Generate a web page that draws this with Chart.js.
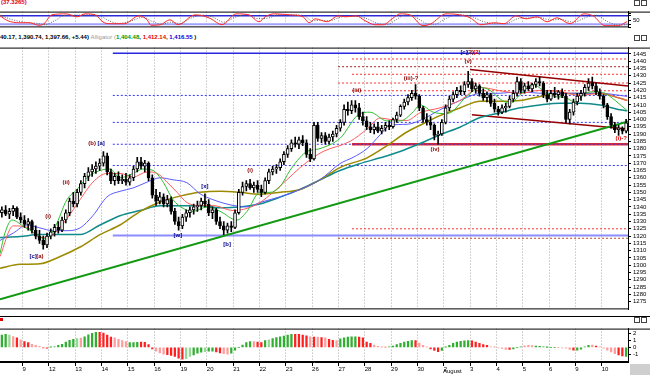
<!DOCTYPE html>
<html>
<head>
<meta charset="utf-8">
<script src="https://cdn.jsdelivr.net/npm/chart.js@4.4.1/dist/chart.umd.min.js"></script>
<style>
  html, body { margin: 0; padding: 0; background: #fff; }
  #wrap { position: relative; width: 650px; height: 375px; overflow: hidden; background: #fff;
          font-family: "Liberation Sans", Arial, sans-serif; }
  canvas { position: absolute; left: 0; }
  .txt { position: absolute; font-size: 6px; font-weight: bold; white-space: nowrap; line-height: 7px; }
  .hl { position: absolute; left: 0; width: 650px; height: 1px; background: #000; }
  .ico { position: absolute; width: 4px; height: 4px; border: 1px solid #444; background: #fff; }
</style>
</head>
<body>
<div id="wrap">
  <canvas id="oscChart" width="650" height="27" style="top:6px"></canvas>
  <canvas id="priceChart" width="650" height="273" style="top:42px"></canvas>
  <canvas id="histChart" width="650" height="52" style="top:323px"></canvas>

  <div class="txt" style="left:1px;top:-1px;color:#e00000">(37.3265)</div>
  <div class="txt" style="left:0;top:34px;color:#000">40.17, 1,390.74, 1,397.66, +5.44)
    <span style="color:#999;font-weight:normal">Alligator (</span><span style="color:#009900">1,404.48</span>,
    <span style="color:#e00000">1,412.14</span>, <span style="color:#0000dd">1,416.55</span> )</div>
  <div class="txt" style="left:443px;top:368px;font-weight:normal;color:#000">August</div>

  <div class="hl" style="top:316px"></div>
  <div style="position:absolute;left:0;top:318px;width:3px;height:3px;background:#e00000"></div>
  <div style="position:absolute;left:630px;top:364px;width:20px;height:11px;background:#cfcfcf"></div>

  <div class="ico" style="left:634px;top:0px"></div><div class="ico" style="left:641px;top:0px"></div>
  <div class="ico" style="left:634px;top:35px"></div><div class="ico" style="left:641px;top:35px"></div>
  <div class="ico" style="left:634px;top:317px"></div><div class="ico" style="left:641px;top:317px"></div>
</div>

<script>
/* =========================================
   DATA (hourly bars)
   ========================================= */
const dayLabels = ['9','12','13','14','15','16','19','20','21','22','23','26','27','28','29','30','2','3','4','5','6','9','10'];
const barsBeforeFirstDay = 6;
const barsPerDay = 7;

const opens = [
  1336,1338,1335,1337,1339,1333,
  1331,1328,1330,1324,1320,1317,1314,
  1320,1323,1326,1324,1331,1336,1344,
  1342,1350,1356,1361,1364,1366,1368,
  1370,1375,1364,1358,1361,1358,1359,
  1357,1360,1366,1371,1368,1370,1360,
  1348,1344,1347,1342,1345,1337,1330,
  1327,1333,1336,1338,1340,1341,1344,
  1342,1336,1338,1330,1327,1324,1327,
  1326,1336,1350,1354,1356,1353,1355,
  1352,1350,1358,1364,1366,1367,1371,
  1376,1380,1384,1383,1386,1384,1376,
  1373,1396,1387,1389,1385,1388,1390,
  1394,1398,1407,1406,1410,1408,1402,
  1399,1395,1393,1395,1392,1394,1396,
  1395,1400,1403,1409,1412,1415,1418,
  1416,1408,1400,1398,1396,1389,1390,
  1398,1408,1414,1417,1420,1419,1424,
  1426,1421,1423,1418,1415,1417,1411,
  1407,1405,1408,1409,1414,1418,1426,
  1420,1423,1421,1424,1426,1425,1417,
  1414,1418,1417,1419,1416,1400,1405,
  1412,1416,1418,1422,1425,1423,1419,
  1416,1410,1402,1396,1393,1394,1392
];
const highs = [
  1340,1341,1339,1341,1340,1336,
  1334,1332,1331,1327,1324,1320,1322,
  1325,1328,1330,1333,1338,1346,1350,
  1352,1358,1363,1367,1369,1371,1373,
  1378,1377,1366,1363,1364,1362,1363,
  1362,1368,1374,1374,1372,1371,1362,
  1352,1350,1349,1348,1347,1339,1333,
  1335,1338,1340,1342,1344,1346,1349,
  1345,1340,1339,1333,1330,1329,1330,
  1338,1352,1357,1358,1359,1357,1358,
  1355,1360,1366,1368,1369,1373,1378,
  1382,1386,1388,1388,1389,1386,1380,
  1398,1398,1391,1391,1390,1392,1396,
  1400,1410,1412,1413,1413,1411,1405,
  1402,1398,1397,1398,1396,1398,1399,
  1401,1405,1410,1414,1417,1420,1424,
  1417,1409,1404,1402,1397,1392,1400,
  1410,1416,1419,1422,1423,1426,1433,
  1428,1425,1424,1421,1419,1418,1414,
  1409,1410,1411,1416,1420,1429,1428,
  1425,1426,1425,1428,1429,1426,1420,
  1420,1422,1420,1421,1418,1407,1414,
  1418,1420,1424,1428,1429,1425,1421,
  1417,1411,1404,1398,1396,1395,1400.17
];
const lows = [
  1333,1334,1332,1334,1332,1329,
  1326,1324,1322,1318,1315,1311,1312,
  1318,1320,1322,1323,1329,1334,1340,
  1340,1348,1353,1358,1361,1363,1365,
  1368,1362,1356,1355,1356,1356,1355,
  1355,1358,1364,1366,1364,1358,1346,
  1341,1342,1340,1340,1335,1328,1324,
  1325,1330,1333,1335,1337,1338,1340,
  1334,1332,1328,1325,1321,1322,1323,
  1325,1335,1348,1351,1352,1350,1350,
  1347,1349,1356,1362,1363,1365,1369,
  1374,1378,1381,1380,1382,1374,1371,
  1372,1385,1384,1383,1383,1385,1388,
  1392,1396,1403,1404,1405,1400,1396,
  1393,1391,1390,1391,1390,1392,1393,
  1394,1398,1402,1407,1410,1413,1414,
  1406,1398,1396,1393,1386,1383,1389,
  1397,1406,1412,1415,1417,1417,1422,
  1419,1418,1416,1413,1412,1409,1405,
  1403,1404,1405,1408,1412,1416,1418,
  1418,1420,1419,1422,1423,1415,1412,
  1413,1415,1414,1415,1398,1397,1403,
  1410,1413,1416,1420,1421,1417,1414,
  1408,1400,1394,1391,1389,1390,1390.74
];
const closes = [
  1338,1335,1337,1339,1333,1331,
  1328,1330,1324,1320,1317,1314,1320,
  1323,1326,1324,1331,1336,1344,1342,
  1350,1356,1361,1364,1366,1368,1370,
  1375,1364,1358,1361,1358,1359,1357,
  1360,1366,1371,1368,1370,1360,1348,
  1344,1347,1342,1345,1337,1330,1327,
  1333,1336,1338,1340,1341,1344,1342,
  1336,1338,1330,1327,1324,1327,1326,
  1336,1350,1354,1356,1353,1355,1352,
  1350,1358,1364,1366,1367,1371,1376,
  1380,1384,1383,1386,1384,1376,1373,
  1396,1387,1389,1385,1388,1390,1394,
  1398,1407,1406,1410,1408,1402,1399,
  1395,1393,1395,1392,1394,1396,1395,
  1400,1403,1409,1412,1415,1418,1416,
  1408,1400,1398,1396,1389,1390,1398,
  1408,1414,1417,1420,1419,1424,1426,
  1421,1423,1418,1415,1417,1411,1407,
  1405,1408,1409,1414,1418,1426,1420,
  1423,1421,1424,1426,1425,1417,1414,
  1418,1417,1419,1416,1400,1405,1412,
  1416,1418,1422,1425,1423,1419,1416,
  1410,1402,1396,1393,1394,1392,1397.66
];

// moving averages: [bar index, price]
const greenMA = [[-0.5,1308],[0.8,1322],[2.7,1331],[6.1,1326],[8.8,1322],[11.5,1318],[14.1,1326],[17.3,1345],[20,1352],
  [22.6,1360],[26.1,1365],[28.8,1366],[31.4,1360],[34.9,1363],[37.5,1366],[40.2,1365],[42.9,1357],[45.5,1345],[48.2,1339],
  [50.8,1337],[54.6,1340],[58,1337],[62.5,1331],[65.2,1337],[68.6,1350],[71.3,1350],[74,1354],[76.6,1365],[79.3,1374],
  [81.1,1378],[84.6,1380],[89.9,1387],[95.2,1404],[97.9,1405],[102.4,1399],[105.9,1399],[109.3,1405],[111.2,1410],
  [114.7,1405],[118.4,1404],[123.7,1416],[127.2,1422],[129.8,1420],[132.5,1414],[135.1,1411],[137.8,1417],[141.3,1424],
  [143.9,1420],[146.6,1416],[149.8,1415],[152.4,1412],[155.1,1418],[157.7,1419],[160.4,1418],[163.1,1413],[166.3,1406]];
const redMA = [[-0.5,1306],[3,1327],[6.7,1326],[10.1,1319],[13.6,1321],[17.3,1332],[20.8,1345],[24.2,1357],[28,1363],
  [31.4,1363],[34.9,1360.5],[38.6,1364],[41.3,1363],[43.9,1357],[46.6,1350],[49.2,1343],[52.7,1341],[56.1,1341],
  [61.5,1337.5],[65.2,1339],[68.6,1343],[72.1,1350],[75.8,1358.6],[79.3,1367],[82.7,1373.7],[85.4,1378],[92.6,1385],
  [97.1,1393.4],[100.6,1401],[103.2,1400],[107.7,1399.3],[111.2,1404.6],[116.5,1408],[121.8,1413],[127.2,1422],
  [132.5,1419.7],[137.8,1418],[143.1,1420],[148.4,1419],[153.8,1416.5],[159.1,1418],[164.4,1414.5],[166.3,1413]];
const blueMA = [[-0.5,1317],[3,1322],[6.7,1327.6],[10.1,1325.6],[13.6,1323.7],[17.3,1323.7],[20.8,1325.6],[24.2,1334],
  [28,1347],[31.4,1350.7],[34.9,1353],[38.6,1357],[42.1,1360],[45.5,1358.6],[49.2,1356.6],[52.7,1349],[56.1,1345],
  [61.5,1341],[65.2,1340],[68.6,1343],[74,1347],[79.3,1352],[84.6,1358.6],[89.9,1369.7],[93.4,1374],[97.1,1380],
  [100.6,1389.5],[103.2,1396],[107.7,1396.7],[111.2,1399.3],[116.5,1406.6],[121.8,1413],[127.2,1417.8],[132.5,1418],
  [137.8,1419],[143.1,1418],[148.4,1418],[153.8,1418],[159.1,1418],[164.4,1416.5],[166.3,1415.8]];
const oliveMA = [[-0.5,1298],[4.8,1300.6],[10.1,1301],[15.5,1306],[20.8,1312.5],[26.1,1321],[31.4,1327.6],[36.7,1336.8],
  [42.1,1343.4],[47.4,1347.4],[52.7,1350],[58,1350.7],[63.3,1350],[68.6,1348.7],[74,1350],[79.3,1352],[84.6,1358.6],
  [89.9,1367],[97.1,1373.7],[102.4,1382],[107.7,1391.4],[111.2,1396],[116.5,1402.6],[121.8,1407.9],[127.2,1412.5],
  [132.5,1412.5],[137.8,1413],[143.1,1415.8],[148.4,1417.8],[153.8,1417.8],[159.1,1417.8],[164.4,1414.5],[166.3,1413]];
const tealMA = [[-0.5,1319],[4.8,1319.7],[10.1,1321],[20.8,1321],[26.1,1327.6],[31.4,1334],[36.7,1337.5],[42.1,1340.8],
  [52.7,1340.8],[58,1339.5],[63.3,1340],[68.6,1342],[74,1346.7],[79.3,1352],[84.6,1358.6],[89.9,1365],[95.2,1369.7],
  [100.6,1373.7],[105.9,1378],[111.2,1383.5],[116.5,1389.5],[121.8,1394.7],[127.2,1401.3],[132.5,1404.6],[137.8,1408],
  [143.1,1410],[148.4,1411.2],[153.8,1411.2],[159.1,1410],[164.4,1406.6],[166.3,1406]];

// drawn trend lines: [bar index, price]
const trendLine = [[-0.5,1276.7],[166.5,1398.6]];
const channelTop = [[124.5,1434.2],[166.5,1423]];
const channelBottom = [[125,1403.3],[166.5,1393.4]];

// horizontal levels: price and first bar index
const levelPrices   = [1445.5, 1441.5, 1436.2, 1431, 1425, 1419.7, 1416.5, 1398, 1383, 1383, 1368.4, 1325, 1320.4, 1318.5];
const levelStartIdx = [29.5, 93.1, 89.4, 93.1, 89.4, 93.1, 29.5, 29.5, 29.5, 93.1, 29.5, 93.1, 29.5, 89.4];

// wave count labels
const waveText  = ['[c]','(a)','(i)','(ii)','(b)','[a]','[w]','[x]','[b]','(i)','(iii)','(iii)-?','(iv)','[c]','(2)','(2)','(v)','(i)-?'];
const waveIdx   = [8.3, 10.1, 12.3, 17.1, 24, 26.4, 46.8, 54, 59.9, 66, 94.4, 108.8, 115.2, 122.9, 124.6, 126.3, 124, 164.7];
const wavePrice = [1305.9, 1305.9, 1333.6, 1356.6, 1383.6, 1383.6, 1320.4, 1353.9, 1314.5, 1365.1, 1419.7, 1428.3, 1379.6,
                   1446, 1446, 1446, 1440.1, 1386.8];

// oscillator (top panel): [bar index, value]
const oscFast = [[-0.5,80],[1.6,45],[4.5,31],[7.2,31],[9.9,13],[11.2,24],[13.3,87],[17.1,94],[20,73],[22.1,94],[24.8,87],
  [27.2,31],[29.3,24],[32.5,24],[36.5,80],[38.6,52],[39.7,13],[42.1,17],[44.7,52],[46.8,17],[51.4,87],[53.5,80],[55.6,59],
  [58.5,17],[62.3,94],[65.7,87],[68.4,38],[70,73],[72.4,94],[76.6,87],[80.1,73],[81.7,31],[83.3,59],[86.5,38],[89.4,80],
  [91.5,73],[94.2,80],[96.6,45],[99.2,17],[101.4,17],[103.8,59],[105.9,94],[108.5,87],[112,10],[114.1,24],[118.1,94],
  [121.8,87],[124.5,66],[127.4,17],[131.1,31],[133.5,24],[136.7,80],[139.4,59],[142.3,73],[145,38],[147.6,66],[151.1,24],
  [154.8,94],[157.2,80],[160.4,10],[163.9,10],[166.3,40]];
const oscSlow = [[-0.5,85],[2.5,55],[6,35],[9,28],[11.5,18],[14,45],[17,85],[20.5,85],[23,88],[26,80],[28.5,45],[31,26],
  [34,40],[37.5,70],[40,40],[42.5,20],[45,35],[47.5,25],[50,60],[53,85],[56,72],[59,35],[62,70],[65,90],[68,60],[71,65],
  [73.5,88],[77,88],[80.5,78],[82.5,45],[84.5,48],[87,45],[90,70],[92.5,76],[95,75],[97.5,55],[100,25],[102.5,20],[105,55],
  [107.5,88],[110,70],[113,25],[115,20],[118,60],[121,88],[124.5,78],[128,40],[131.5,25],[134,25],[137.5,62],[140,65],
  [143,68],[146,50],[148.5,55],[152,35],[155.5,70],[158,85],[161,40],[164,15],[166.3,18]];
const oscLevels = [80, 20];

// histogram (bottom panel), one value per bar, and its colour class
const histValues = [
  1.8,1.9,1.8,1.6,1.4,1.1,
  0.85,0.7,0.45,0.3,0.15,-0.05,-0.1,
  0.05,0.1,0.3,0.45,0.8,1.05,1.2,
  1.3,1.35,1.55,1.85,2.05,2.2,2.2,
  2.1,1.8,1.5,1.4,1.2,1.0,0.85,
  0.7,0.7,0.75,0.8,0.75,0.4,-0.2,
  -0.55,-0.8,-1.0,-1.05,-1.15,-1.3,-1.55,
  -1.7,-1.65,-1.3,-1.1,-0.85,-0.7,-0.6,
  -0.55,-0.55,-0.65,-0.8,-0.9,-1.0,-0.85,
  -0.4,0.0,0.35,0.7,0.85,0.85,0.8,
  0.7,1.0,1.1,1.3,1.45,1.55,1.65,
  1.8,1.9,1.9,1.9,1.8,1.7,1.55,
  1.5,1.5,1.45,1.4,1.2,1.05,1.0,
  1.25,1.4,1.5,1.55,1.55,1.5,1.4,
  0.8,0.6,0.35,0.15,0.05,0.02,0.08,
  0.2,0.4,0.6,0.8,0.9,1.0,1.0,
  0.65,0.3,0.1,-0.2,-0.45,-0.6,-0.45,
  0.05,0.3,0.6,0.8,0.9,0.95,1.0,
  0.95,0.8,0.6,0.4,0.3,0.1,0.05,
  -0.05,-0.15,-0.3,-0.3,-0.2,0.0,0.1,
  0.25,0.3,0.28,0.2,0.15,0.1,0.02,
  0.0,0.0,0.0,-0.05,-0.1,-0.3,-0.4,
  -0.4,-0.25,0.1,0.3,0.35,0.2,0.1,
  -0.1,-0.4,-0.65,-0.9,-1.1,-1.25,-1.3
];
const histClass = (
  'GGLPRP' + 'RRPPPRR' + 'GGGGGGG' + 'LPGGGGR' + 'RRRPPPP' + 'GGGRRRR' + 'PPPRRRR' + 'RLLGGGL' +
  'GGRRPPG' + 'GGGGGPR' + 'RGLGGGG' + 'GGRRRRP' + 'RPRPRRP' + 'GGGGGRR' + 'RRPPPPG' + 'GGGGGGR' +
  'PPPRRRG' + 'GGGGGGG' + 'RRRRRPP' + 'PPPRGGG' + 'PPPGGGG' + 'GGPPPPR' + 'GGGGPRP' + 'PPPPRRG'
).split('');

const priceTickMin = 1275, priceTickMax = 1445, priceTickStep = 5;
const histTicks = [2, 1, 0, -1];
const oscTicks = [0, 20, 50, 80, 100];


/* =========================================
   STYLES
   ========================================= */
const FONT = '"Liberation Sans", Arial, sans-serif';
const GRID = '#a8a8a8';
const histColors = { G: '#2fae2f', L: '#93d893', R: '#ff2020', P: '#ff9c9c' };
const levelStyles = [
  { color: '#2828e0', width: 1.5, dash: [] },
  { color: '#ff3030', width: 1, dash: [2, 2] },
  { color: '#a02828', width: 1, dash: [2, 2] },
  { color: '#ff3030', width: 1, dash: [2, 2] },
  { color: '#ff3030', width: 1, dash: [2, 2] },
  { color: '#ff3030', width: 1, dash: [2, 2] },
  { color: '#3535ff', width: 1, dash: [2, 2] },
  { color: '#3535ff', width: 1, dash: [2, 2] },
  { color: '#3535ff', width: 1, dash: [2, 2] },
  { color: '#e02828', width: 2.5, dash: [] },
  { color: '#3535ff', width: 1, dash: [2, 2] },
  { color: '#ff3030', width: 1, dash: [2, 2] },
  { color: '#8c8cff', width: 2, dash: [] },
  { color: '#b05020', width: 1, dash: [2, 2] }
];
const waveColors = ['#00008c','#8c0000','#8c0000','#8c0000','#8c0000','#00008c','#00008c','#00008c','#00008c','#8c0000',
                    '#8c0000','#8c0000','#8c0000','#00008c','#8c0000','#e00000','#8c0000','#e00000'];

const totalBars = barsBeforeFirstDay + dayLabels.length * barsPerDay;
const dayTicks = dayLabels.map((d, k) => barsBeforeFirstDay - 0.5 + k * barsPerDay);
const toPts = arr => arr.map(p => ({ x: p[0], y: p[1] }));


/* =========================================
   PLUGINS
   ========================================= */
const framePlugin = {
  id: 'frame',
  afterDraw(chart) {
    const { ctx, chartArea: a } = chart;
    ctx.save();
    ctx.strokeStyle = '#000';
    ctx.lineWidth = 1;
    ctx.beginPath();
    ctx.moveTo(0, a.top + 0.5); ctx.lineTo(650, a.top + 0.5);
    ctx.moveTo(0, a.bottom - 0.5); ctx.lineTo(a.right, a.bottom - 0.5);
    ctx.stroke();
    ctx.restore();
  }
};

const waveLabelPlugin = {
  id: 'waveLabels',
  afterDatasetsDraw(chart) {
    const { ctx, scales: { x, y } } = chart;
    ctx.save();
    ctx.font = 'bold 6px ' + FONT;
    ctx.textAlign = 'center';
    ctx.textBaseline = 'middle';
    waveText.forEach((t, k) => {
      ctx.fillStyle = waveColors[k];
      ctx.fillText(t, x.getPixelForValue(waveIdx[k]), y.getPixelForValue(wavePrice[k]));
    });
    ctx.restore();
  }
};


/* =========================================
   SHARED AXIS SETUP
   ========================================= */
function xAxis(showLabels) {
  return {
    type: 'linear', min: -0.5, max: totalBars - 0.5, offset: false,
    afterBuildTicks: s => { s.ticks = dayTicks.map(v => ({ value: v })); },
    afterFit: s => { s.height = showLabels ? 13 : 0; },
    grid: { color: GRID, lineWidth: 1, offset: false, drawTicks: showLabels, tickLength: 4, tickColor: '#000', tickBorderDash: [] },
    border: { display: showLabels, color: '#000', dash: [1, 2] },
    ticks: {
      display: showLabels, autoSkip: false, maxRotation: 0, align: 'start', padding: 0,
      color: '#000', font: { size: 6, family: FONT },
      callback: (v, k) => dayLabels[k]
    }
  };
}

function yAxis(min, max, tickValues, labelFn) {
  return {
    position: 'right', min: min, max: max,
    afterBuildTicks: s => { s.ticks = tickValues.map(v => ({ value: v })); },
    afterFit: s => { s.width = 22; },
    grid: { drawOnChartArea: false, drawTicks: true, tickLength: 3, color: '#000' },
    border: { display: true, color: '#000' },
    ticks: { color: '#000', padding: 2, autoSkip: false, font: { size: 6, family: FONT }, callback: labelFn }
  };
}

const baseOptions = {
  responsive: false,
  animation: false,
  events: [],
  devicePixelRatio: 1,
  layout: { padding: 0, autoPadding: false },
  plugins: { legend: { display: false }, tooltip: { enabled: false } }
};


/* =========================================
   1. OSCILLATOR PANEL
   ========================================= */
function initOscChart() {
  const levelSets = oscLevels.map((v, k) => ({
    type: 'line',
    data: [{ x: -0.5, y: v }, { x: totalBars - 0.5, y: v }],
    borderColor: k === 0 ? '#2a2ad8' : '#a0a0ff',
    borderWidth: k === 0 ? 1.5 : 2,
    pointRadius: 0, order: 10
  }));

  new Chart(document.getElementById('oscChart'), {
    type: 'line',
    data: {
      datasets: [
        { data: toPts(oscFast), borderColor: '#ff2a2a', borderWidth: 1, pointRadius: 0, cubicInterpolationMode: 'monotone', order: 1 },
        { data: toPts(oscSlow), borderColor: '#666', borderWidth: 1, borderDash: [1, 1.5], pointRadius: 0, cubicInterpolationMode: 'monotone', order: 2 },
        ...levelSets
      ]
    },
    options: {
      ...baseOptions,
      scales: {
        x: xAxis(false),
        y: yAxis(-2, 110, oscTicks, v => (v === 50 ? '50' : ''))
      }
    },
    plugins: [framePlugin]
  });
}


/* =========================================
   2. PRICE PANEL (candles + Alligator + drawings)
   ========================================= */
function initPriceChart() {
  const idx = closes.map((c, i) => i);
  const wicks = idx.map(i => ({ x: i, y: [lows[i], highs[i]] }));
  const bodies = idx.map(i => ({ x: i, y: [opens[i], closes[i]] }));
  const bodyColors = idx.map(i => (closes[i] >= opens[i] ? '#ffffff' : '#000000'));

  const priceTicks = [];
  for (let v = priceTickMin; v <= priceTickMax; v += priceTickStep) priceTicks.push(v);

  const line = (pts, color, width, extra) => Object.assign({
    type: 'line', data: toPts(pts), borderColor: color, borderWidth: width,
    pointRadius: 0, fill: false, cubicInterpolationMode: 'monotone', order: 5
  }, extra || {});

  const levelSets = levelPrices.map((v, k) => ({
    type: 'line',
    data: [{ x: levelStartIdx[k], y: v }, { x: totalBars - 0.5, y: v }],
    borderColor: levelStyles[k].color,
    borderWidth: levelStyles[k].width,
    borderDash: levelStyles[k].dash,
    pointRadius: 0, order: 12
  }));

  new Chart(document.getElementById('priceChart'), {
    type: 'bar',
    data: {
      datasets: [
        { type: 'bar', data: bodies, backgroundColor: bodyColors, borderColor: '#000', borderWidth: 1,
          borderSkipped: false, barThickness: 3, grouped: false, order: 0 },
        { type: 'bar', data: wicks, backgroundColor: '#000', barThickness: 1, grouped: false, order: 1 },
        line(greenMA, '#2fc02f', 1),
        line(redMA, '#ff5c5c', 1),
        line(blueMA, '#5a5aff', 1),
        line(oliveMA, '#9c8a00', 1.5, { order: 6 }),
        line(tealMA, '#108a8a', 1.5, { order: 6 }),
        line(trendLine, '#119911', 2, { order: 7, cubicInterpolationMode: 'default', tension: 0 }),
        line(channelTop, '#960000', 1.5, { order: 7, tension: 0 }),
        line(channelBottom, '#960000', 1.5, { order: 7, tension: 0 }),
        ...levelSets
      ]
    },
    options: {
      ...baseOptions,
      scales: {
        x: xAxis(false),
        y: yAxis(1269.7, 1449.3, priceTicks, v => String(v))
      }
    },
    plugins: [framePlugin, waveLabelPlugin]
  });
}


/* =========================================
   3. HISTOGRAM PANEL + DATE AXIS
   ========================================= */
function initHistChart() {
  new Chart(document.getElementById('histChart'), {
    type: 'bar',
    data: {
      datasets: [{
        data: histValues.map((v, i) => ({ x: i, y: v })),
        backgroundColor: histClass.map(c => histColors[c]),
        barThickness: 1.6,
        grouped: false
      }]
    },
    options: {
      ...baseOptions,
      scales: {
        x: xAxis(true),
        y: yAxis(-2.125, 2.75, histTicks, v => String(v))
      }
    },
    plugins: [framePlugin]
  });
}


/* =========================================
   STARTUP
   ========================================= */
initOscChart();
initPriceChart();
initHistChart();
</script>
</body>
</html>
